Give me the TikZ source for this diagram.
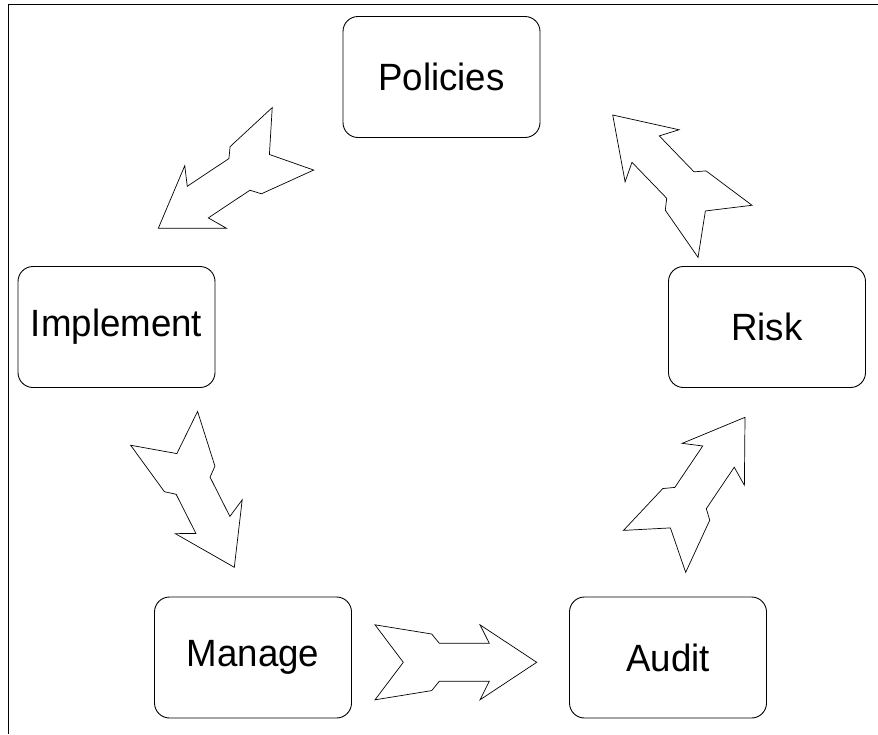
\documentclass[tikz,border=0pt]{standalone}
\usepackage{fontspec}
\setmainfont{Liberation Sans}
\newfontfamily\stagefont[FakeStretch=0.965]{Liberation Sans}
\newcommand\blockarrowat[3]{%
  \draw[arrowline, shift={(#1)}, rotate=#2]
    (-161.7+#3,37.5) -- (-105+#3,28.3) -- (-97.4+#3,19) -- (-47.4,19) -- (-56.7,37.5)
    -- (0,0)
    -- (-56.7,-37.5) -- (-47.4,-19) -- (-97.4+#3,-19) -- (-105+#3,-28.3) -- (-161.7+#3,-37.5)
    -- (-133.4+#3,0) -- cycle;}
\begin{document}
\begin{tikzpicture}[x=1pt,y=1pt,
  stagebox/.style={draw=black, line width=0.9pt, rounded corners=15pt,
    minimum width=197pt, minimum height=121pt, inner sep=0pt,
    font=\stagefont\fontsize{38}{46}\selectfont},
  arrowline/.style={draw=black, line width=0.7pt, line join=miter, fill=white},
  frameline/.style={draw=black, line width=1pt}]
\useasboundingbox (0,0) rectangle (878,-734);
% frame (top and left edges)
\coordinate (fbl) at (8,-734);
\coordinate (ftl) at (8,-4.5);
\coordinate (ftr) at (878,-4.5);
\draw[frameline] (fbl) -- (ftl) -- (ftr);
% stages
\node[stagebox] (pol) at (441.5,-77) {Policies};
\node[stagebox] (imp) at (116.5,-327) {Implement};
\node[stagebox] (risk) at (767,-327) {Risk};
\node[stagebox] (man) at (253,-657.5) {Manage};
\node[stagebox] (aud) at (668,-657.5) {Audit};
% arrow tips
\coordinate (t1) at (158.3,-228.3);
\coordinate (t2) at (612.7,-115);
\coordinate (t3) at (234.3,-567.3);
\coordinate (t4) at (536.7,-662.3);
\coordinate (t5) at (745,-417.3);
\blockarrowat{t1}{213.6}{0}
\blockarrowat{t2}{134}{0}
\blockarrowat{t3}{-63.2}{6}
\blockarrowat{t4}{0}{0}
\blockarrowat{t5}{56}{0}
\end{tikzpicture}
\end{document}
